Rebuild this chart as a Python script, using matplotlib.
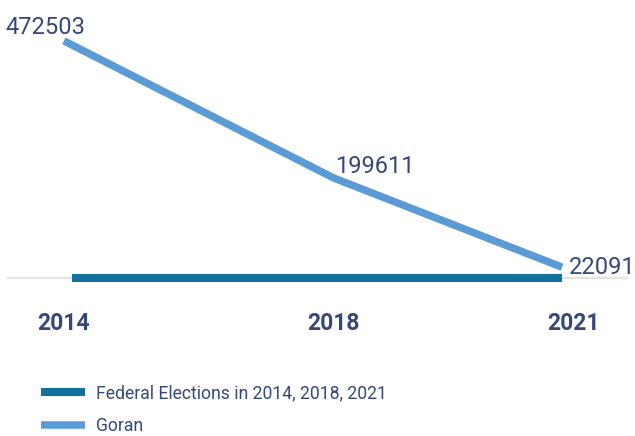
import pandas as pd
import matplotlib.pyplot as plt
import matplotlib.transforms as mtransforms

plt.rcParams['font.family'] = ['Roboto', 'DejaVu Sans']

# Election dates and Goran votes
election_dates = pd.to_datetime(['2014-04-30', '2018-05-12', '2021-10-10'])
goran_votes = [472503, 199611, 22091]
tick_labels = ['2014', '2018', '2021']

# Federal elections reference series (sits on the baseline)
federal_dates = pd.to_datetime(['2014-06-15', '2021-10-07'])
federal_values = [0, 0]

text_color = '#34497a'
goran_color = '#5b9bd5'
federal_color = '#11729f'

fig = plt.figure(figsize=(6.35, 4.36), dpi=100)
# Axes placed in figure pixels
W, H = 635, 436
ax = fig.add_axes([7 / W, (H - 290) / H, (628 - 7) / W, 280 / H])

# Baseline
ax.axhline(0, color='#e3e3e3', lw=1.6, zorder=1)

# Series
ax.plot(federal_dates, federal_values, color=federal_color, lw=5.8,
        solid_capstyle='butt', zorder=2, label='Federal Elections in 2014, 2018, 2021')
ax.plot(election_dates, goran_votes, color=goran_color, lw=5.4,
        solid_capstyle='butt', solid_joinstyle='round', zorder=3, label='Goran')

# Value labels
offsets = [(-59, 7, 'left', 'baseline'), (1, 5, 'left', 'baseline'), (7, 0, 'left', 'center')]
for d, v, (dx, dy, ha, va) in zip(election_dates, goran_votes, offsets):
    ax.annotate(str(v), (d, v), xytext=(dx, dy), textcoords='offset pixels',
                ha=ha, va=va, fontsize=17, fontweight='normal', color=text_color)

# Axis limits
ax.set_xlim(election_dates[0] - pd.Timedelta(days=311),
            election_dates[-1] + pd.Timedelta(days=360))
ax.set_ylim(-23284, 533930)

ax.set_xticks(election_dates)
ax.set_xticklabels(tick_labels, fontsize=16.5, fontweight='bold', color=text_color)
ax.tick_params(axis='x', length=0, pad=15.5)
ax.set_yticks([])
for s in ax.spines.values():
    s.set_visible(False)

# last tick label sits a bit right of its point
lbl = ax.get_xticklabels()[-1]
lbl.set_transform(lbl.get_transform() + mtransforms.ScaledTranslation(11 / 100, 0, fig.dpi_scale_trans))

leg = fig.legend(loc='upper left', bbox_to_anchor=(41 / W, (H - 384) / H),
                 frameon=False, borderpad=0, fontsize=12.7, handlelength=2.5,
                 handletextpad=0.6, labelspacing=0.85, borderaxespad=0)
for t in leg.get_texts():
    t.set_color(text_color)

plt.savefig('out.png', dpi=100)
